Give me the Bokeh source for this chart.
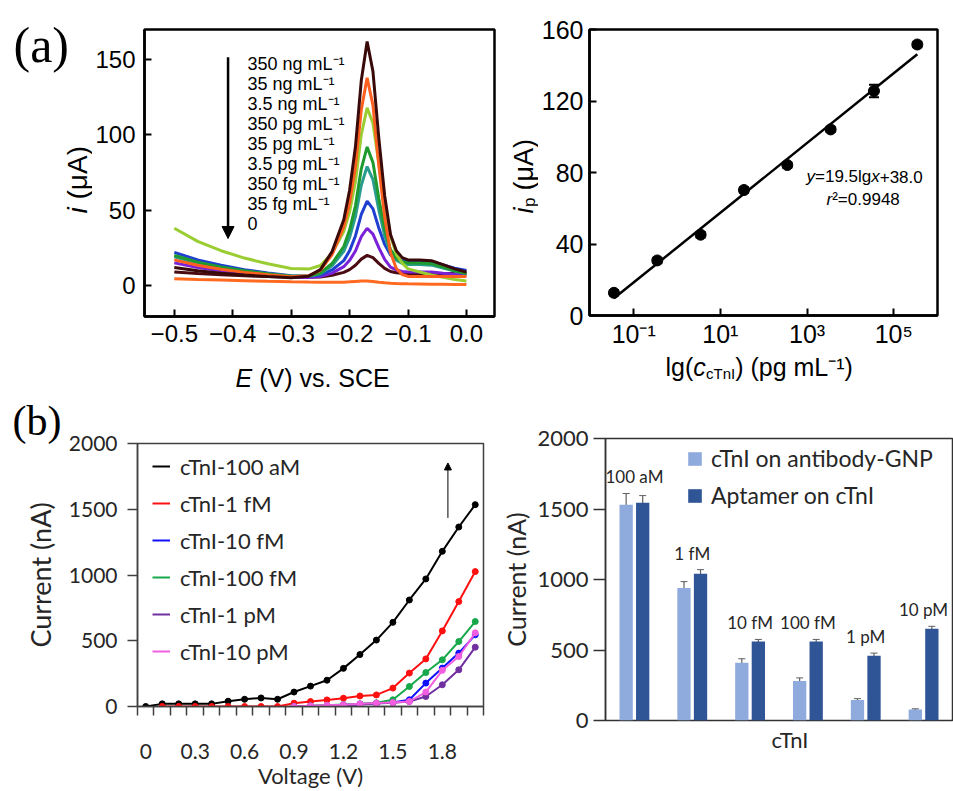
import math
from bokeh.plotting import figure
from bokeh.layouts import row, column
from bokeh.models import (ColumnDataSource, FixedTicker, Label, Arrow, NormalHead, Whisker,
                          Legend, LegendItem, FactorRange, Range1d, Title)
from bokeh.transform import dodge
from bokeh.core.properties import value
from bokeh.embed import file_html
from bokeh.resources import INLINE

# ---------------- data: (a) left, DPV curves ----------------
E_V = [-0.50, -0.46, -0.42, -0.38, -0.34, -0.30, -0.27, -0.25, -0.23, -0.21, -0.20, -0.19, -0.18,
       -0.17, -0.16, -0.15, -0.14, -0.13, -0.12, -0.11, -0.10, -0.08, -0.06, -0.04, -0.02, 0.00]
I_350NG = [12, 9.8, 8.2, 6.9, 5.9, 5.1, 6.2, 10.5, 22.5, 43.7, 63.2, 92.1, 136.1, 162, 142.1, 97.9,
           59.8, 33.9, 23.1, 18.5, 17, 17, 16.5, 13.8, 11, 9]
I_35NG = [17, 13.4, 10.8, 8.7, 7.1, 5.8, 6.5, 10.1, 20.5, 38.9, 54.8, 78.9, 116.5, 138, 119.6, 79.8,
          45.5, 21.8, 11.3, 7.3, 6, 6, 6, 6, 6, 6]
I_3_5NG = [38, 29.3, 23.1, 18.2, 14.4, 11.3, 10.9, 13.3, 21.3, 35.9, 48.9, 69, 100.1, 118, 107.7, 81,
           54.4, 33.2, 20.7, 14.8, 11, 9, 7, 5.5, 4, 3]
I_350PG = [20, 15.5, 12.3, 9.8, 7.8, 6.2, 6.2, 8.3, 14.6, 25.9, 36.8, 52.9, 77.5, 92, 81.6, 57.8,
           37.5, 23.8, 18.3, 15.8, 15, 15, 14.5, 12.2, 9.8, 8]
I_35PG = [19, 14.8, 11.8, 9.4, 7.6, 6.1, 6.1, 7.7, 13.1, 22.7, 31.9, 45.7, 66.6, 79, 70.3, 50.2,
          33, 21.4, 16.8, 14.7, 14, 14, 13.5, 11.6, 9.5, 8]
I_3_5PG = [22, 17, 13.4, 10.5, 8.3, 6.5, 6.1, 7.0, 10.3, 16.5, 23, 32.9, 47.2, 56, 50.9, 38.2,
           27.3, 20.3, 17.9, 16.5, 16.5, 16.5, 16, 13.6, 11.5, 10]
I_350FG = [15, 11.9, 9.7, 8, 6.6, 5.5, 5.3, 6, 8.2, 12.5, 16.7, 22.9, 32.4, 38, 34.1, 25.1,
           17.4, 12.2, 10.3, 9.3, 9, 9, 9, 8.2, 7.5, 7]
I_35FG = [9, 7.9, 7.1, 6.4, 6, 5.6, 5.5, 5.7, 6.8, 8.7, 10.5, 13.4, 17.5, 20, 18.5, 14.7,
          11.4, 9.3, 8.5, 8.1, 8, 8, 8, 8, 8, 8]
I_ZERO = [4.5, 4, 3.6, 3.2, 2.8, 2.5, 2.3, 2.2, 2.1, 2.2, 2.4, 2.7, 3, 3, 2.7, 2.2,
          1.8, 1.5, 1.3, 1.2, 1.1, 1, 0.9, 0.8, 0.7, 0.6]
CONC_LABELS = ["350 ng mL⁻¹", "35 ng mL⁻¹", "3.5 ng mL⁻¹", "350 pg mL⁻¹", "35 pg mL⁻¹",
               "3.5 pg mL⁻¹", "350 fg mL⁻¹", "35 fg mL⁻¹", "0"]
CONC_CURVES = [I_350NG, I_35NG, I_3_5NG, I_350PG, I_35PG, I_3_5PG, I_350FG, I_35FG, I_ZERO]
CONC_COLORS = ["#3a0a0a", "#ff5f1f", "#9acd32", "#1f9a2e", "#2a9d8f", "#1f3fd0", "#7b22d8",
               "#4a0c12", "#ff6a20"]
E_TICKS = [-0.5, -0.4, -0.3, -0.2, -0.1, 0.0]
I_TICKS = [0, 50, 100, 150]

# ---------------- data: (a) right, calibration ----------------
C_CTNI = [0.035, 0.35, 3.5, 35, 350, 3500, 35000, 350000]
IP = [12.7, 30.8, 45.2, 70.2, 84.2, 104.1, 125.6, 151.6]
IP_ERR = [1.5, 1.5, 1.5, 1.5, 1.5, 1.5, 3.5, 1.5]
FIT_SLOPE = 19.5
FIT_INTERCEPT = 38.0
LOG_TICKS = [0.1, 10, 1000, 100000]
LOG_TICK_LABELS = ["10⁻¹", "10¹", "10³", "10⁵"]
IP_TICKS = [0, 40, 80, 120, 160]

# ---------------- data: (b) left, I-V curves ----------------
VOLT = [0.0, 0.1, 0.2, 0.3, 0.4, 0.5, 0.6, 0.7, 0.8, 0.9, 1.0, 1.1, 1.2, 1.3, 1.4, 1.5, 1.6,
        1.7, 1.8, 1.9, 2.0]
CUR_100AM = [0, 20, 20, 20, 20, 40, 55, 65, 55, 110, 155, 200, 290, 395, 505, 640, 810, 970,
             1180, 1365, 1535]
CUR_1FM = [0, 0, 0, 0, 0, 0, 0, 0, 25, 38, 50, 63, 80, 88, 140, 254, 362, 575, 798, 1026]
CUR_10FM = [0, 4, 8, 12, 18, 25, 30, 51, 178, 292, 406, 545]
CUR_100FM = [0, 5, 10, 15, 20, 28, 51, 152, 258, 355, 494, 646]
CUR_1PM = [0, 3, 6, 10, 15, 22, 28, 38, 76, 165, 279, 451]
CUR_10PM = [0, 5, 10, 14, 20, 26, 30, 38, 110, 275, 380, 560]
IV_LABELS = ["cTnI-100 aM", "cTnI-1 fM", "cTnI-10 fM", "cTnI-100 fM", "cTnI-1 pM", "cTnI-10 pM"]
IV_COLORS = ["#000000", "#ff1010", "#1010ff", "#16a84a", "#7030a0", "#f35ee0"]
V_TICKS = [0, 0.3, 0.6, 0.9, 1.2, 1.5, 1.8]
V_TICK_LABELS = ["0", "0.3", "0.6", "0.9", "1.2", "1.5", "1.8"]
CUR_TICKS = [0, 500, 1000, 1500, 2000]

# ---------------- data: (b) right, bars ----------------
GROUPS = ["100 aM", "1 fM", "10 fM", "100 fM", "1 pM", "10 pM"]
ANTIBODY = [1530, 940, 410, 280, 145, 78]
ANTIBODY_ERR = [80, 45, 28, 22, 10, 5]
APTAMER = [1545, 1040, 560, 560, 460, 650]
APTAMER_ERR = [50, 30, 15, 15, 18, 18]

SANS = "Liberation Sans"
SERIF = "Liberation Serif"
CAL = "Lato"


def clabel(p, x, y, text, size, font=SANS, style="normal", angle=0.0, align="left",
           baseline="middle", color="black"):
    p.add_layout(Label(x=x, y=y, x_units="canvas", y_units="canvas", text=text,
                       text_font=font, text_font_size=f"{size}px", text_font_style=style,
                       angle=angle, text_align=align, text_baseline=baseline,
                       text_color=color))


def text_canvas(w, h):
    p = figure(width=w, height=h, x_range=Range1d(0, 1), y_range=Range1d(0, 1),
               x_axis_location=None, y_axis_location=None, min_border=0, title=None,
               output_backend="svg", toolbar_location=None)
    p.grid.visible = False
    p.xgrid.visible = False
    p.ygrid.visible = False
    p.outline_line_color = None
    p.background_fill_color = "white"
    p.border_fill_color = "white"
    return p


def style_box(p, width, color):
    p.grid.visible = False
    p.outline_line_color = color
    p.outline_line_width = width
    p.outline_line_alpha = 1.0
    p.background_fill_color = "white"
    p.border_fill_color = "white"


# ================= Panel (a) left =================
pA = figure(width=406, height=354, x_range=Range1d(-0.551, 0.048), y_range=Range1d(-20.6, 170),
            output_backend="svg", toolbar_location=None, title=None,
            min_border_left=51, min_border_right=4, min_border_top=29, min_border_bottom=38)
style_box(pA, 2.5, "black")
for ax in (pA.xaxis[0], pA.yaxis[0]):
    ax.axis_line_width = 2.5
    ax.axis_line_color = "black"
    ax.major_tick_in = 7
    ax.major_tick_out = 0
    ax.major_tick_line_width = 2
    ax.minor_tick_line_color = None
    ax.major_label_text_font = SANS
    ax.major_label_text_font_size = "24px"
    ax.major_label_text_color = "black"
pA.xaxis.ticker = FixedTicker(ticks=E_TICKS)
pA.xaxis.major_label_overrides = {t: ("%.1f" % t).replace("-", "\u2212") for t in E_TICKS}
pA.yaxis.ticker = FixedTicker(ticks=I_TICKS)
pA.xaxis.major_label_standoff = 8
pA.yaxis.major_label_standoff = 9

for ys, col in reversed(list(zip(CONC_CURVES, CONC_COLORS))):
    pA.line(E_V, ys, line_color=col, line_width=3)

for i, t in enumerate(CONC_LABELS):
    clabel(pA, 155, 63 + 20 * i, t, 18)
pA.add_layout(Arrow(end=NormalHead(size=12, fill_color="black", line_color="black"),
                    x_start=-0.408, y_start=151.6, x_end=-0.408, y_end=31.2,
                    line_width=2.5, line_color="black"))

LA = text_canvas(92, 392)
clabel(LA, 13, 44, "(a)", 50, font=SERIF)
clabel(LA, 77, 213, "i", 28, style="italic", angle=math.pi / 2)
clabel(LA, 77, 199, "(μA)", 28, angle=math.pi / 2)

LAx = text_canvas(406, 38)
clabel(LAx, 143, 23, "E", 25, style="italic")
clabel(LAx, 166.7, 23, "(V) vs. SCE", 25)

# ================= Panel (a) right =================
pB = figure(width=415, height=350, x_axis_type="log",
            x_range=Range1d(10 ** -2.02, 10 ** 6.01), y_range=Range1d(0, 160),
            output_backend="svg", toolbar_location=None, title=None,
            min_border_left=48, min_border_right=16, min_border_top=29, min_border_bottom=34)
style_box(pB, 2.5, "black")
for ax in (pB.xaxis[0], pB.yaxis[0]):
    ax.axis_line_width = 2.5
    ax.axis_line_color = "black"
    ax.major_tick_in = 7
    ax.major_tick_out = 0
    ax.major_tick_line_width = 2
    ax.minor_tick_line_color = None
    ax.major_label_text_font = SANS
    ax.major_label_text_font_size = "25px"
    ax.major_label_text_color = "black"
pB.xaxis.ticker = FixedTicker(ticks=LOG_TICKS)
pB.xaxis.major_label_overrides = dict(zip(LOG_TICKS, LOG_TICK_LABELS))
pB.yaxis.ticker = FixedTicker(ticks=IP_TICKS)
pB.xaxis.major_label_standoff = 4
pB.yaxis.major_label_standoff = 6

fit_x = [C_CTNI[0], C_CTNI[-1]]
fit_y = [FIT_SLOPE * math.log10(c) + FIT_INTERCEPT for c in fit_x]
pB.line(fit_x, fit_y, line_color="black", line_width=2.5)
srcB = ColumnDataSource(dict(c=C_CTNI, ip=IP, lo=[v - e for v, e in zip(IP, IP_ERR)],
                             hi=[v + e for v, e in zip(IP, IP_ERR)]))
wB = Whisker(source=srcB, base="c", lower="lo", upper="hi", line_color="black", line_width=2)
wB.upper_head.size = 10
wB.lower_head.size = 10
wB.upper_head.line_width = 2
wB.lower_head.line_width = 2
pB.add_layout(wB)
pB.scatter("c", "ip", source=srcB, size=11, fill_color="black", line_color="black")

clabel(pB, 268, 176, "y", 17, style="italic")
clabel(pB, 276.5, 176, "=19.5lg", 17)
clabel(pB, 332.7, 176, "x", 17, style="italic")
clabel(pB, 341.2, 176, "+38.0", 17)
clabel(pB, 288, 199, "r", 17, style="italic")
clabel(pB, 293.7, 199, "²=0.9948", 17)

LB = text_canvas(40, 392)
clabel(LB, 25, 213, "i", 27, style="italic", angle=math.pi / 2)
clabel(LB, 31, 206.5, "p", 17, angle=math.pi / 2)
clabel(LB, 25, 190, "(μA)", 27, angle=math.pi / 2)

LBx = text_canvas(415, 42)
clabel(LBx, 127, 16, "lg(", 25)
clabel(LBx, 154.8, 16, "c", 25, style="italic")
clabel(LBx, 167.5, 23, "cTnI", 15)
clabel(LBx, 196.7, 16, ") (pg mL⁻¹)", 25)

# ================= Panel (b) left =================
pC = figure(width=498, height=399, x_range=Range1d(-0.05, 2.05), y_range=Range1d(0, 2000),
            output_backend="svg", toolbar_location=None,
            title=Title(text="(b)", align="left", offset=-125, text_font=SERIF,
                        text_font_size="42px", text_font_style="normal", standoff=0,
                        text_color="black"),
            min_border_left=137, min_border_right=15, min_border_top=51, min_border_bottom=84)
style_box(pC, 1.5, "#404040")
for ax in (pC.xaxis[0], pC.yaxis[0]):
    ax.axis_line_width = 1.5
    ax.axis_line_color = "#404040"
    ax.major_label_text_font = CAL
    ax.major_label_text_font_size = "21px"
    ax.major_label_text_color = "#262626"
    ax.axis_label_text_font = CAL
    ax.axis_label_text_font_style = "normal"
    ax.axis_label_text_color = "#262626"
pC.yaxis.ticker = FixedTicker(ticks=CUR_TICKS)
pC.yaxis.major_tick_out = 10
pC.yaxis.major_tick_in = 0
pC.yaxis.major_tick_line_color = "#404040"
pC.yaxis.major_tick_line_width = 1.5
pC.yaxis.minor_tick_line_color = None
pC.yaxis.major_label_standoff = 10
pC.yaxis.axis_label = "Current (nA)"
pC.yaxis.axis_label_text_font_size = "27px"
pC.yaxis.axis_label_standoff = 9
pC.xaxis.ticker = FixedTicker(ticks=V_TICKS,
                              minor_ticks=[round(-0.05 + 0.1 * k, 2) for k in range(22)])
pC.xaxis.major_label_overrides = dict(zip(V_TICKS, V_TICK_LABELS))
pC.xaxis.major_tick_line_color = None
pC.xaxis.major_tick_out = 0
pC.xaxis.major_tick_in = 0
pC.xaxis.minor_tick_out = 9
pC.xaxis.minor_tick_in = 0
pC.xaxis.minor_tick_line_color = "#404040"
pC.xaxis.minor_tick_line_width = 1.5
pC.xaxis.major_label_standoff = 28
pC.xaxis.axis_label = "Voltage (V)"
pC.xaxis.axis_label_text_font_size = "22px"
pC.xaxis.axis_label_standoff = 0

iv_series = [(VOLT, CUR_100AM), (VOLT[1:], CUR_1FM), (VOLT[9:], CUR_10FM),
             (VOLT[9:], CUR_100FM), (VOLT[9:], CUR_1PM), (VOLT[9:], CUR_10PM)]
iv_items = []
for (xs, ys), col, lab in zip(iv_series, IV_COLORS, IV_LABELS):
    r = pC.line(xs, ys, line_color=col, line_width=2)
    pC.scatter(xs, ys, size=6, fill_color=col, line_color=col)
    iv_items.append(LegendItem(label=lab, renderers=[r]))
legC = Legend(items=iv_items, location=(15, 40), glyph_width=18, glyph_height=30,
              label_height=30, spacing=7, padding=0, margin=0, border_line_color=None,
              background_fill_alpha=0, label_text_font=CAL, label_text_font_size="22px",
              label_text_color="#262626", label_standoff=10)
pC.add_layout(legC)
pC.add_layout(Arrow(end=NormalHead(size=7, fill_color="black", line_color="black"),
                    x_start=1.834, y_start=1434, x_end=1.834, y_end=1852,
                    line_width=1, line_color="black"))

# ================= Panel (b) right =================
pD = figure(width=455, height=399, x_range=FactorRange(factors=GROUPS), y_range=Range1d(0, 2000),
            output_backend="svg", toolbar_location=None, title=None,
            min_border_left=107, min_border_right=1, min_border_top=46, min_border_bottom=71)
style_box(pD, 1.5, "#333333")
pD.xaxis.visible = False
yD = pD.yaxis[0]
yD.axis_line_width = 1.5
yD.axis_line_color = "#333333"
yD.major_label_text_font = CAL
yD.major_label_text_color = "#262626"
yD.axis_label_text_font = CAL
yD.axis_label_text_font_style = "normal"
yD.axis_label_text_color = "#262626"
yD.minor_tick_line_color = None
yD.ticker = FixedTicker(ticks=CUR_TICKS)
yD.major_tick_out = 12
yD.major_tick_in = 0
yD.major_tick_line_color = "#333333"
yD.major_tick_line_width = 1.5
yD.major_label_text_font_size = "22px"
yD.major_label_standoff = 5
yD.axis_label = "Current (nA)"
yD.axis_label_text_font_size = "25px"
yD.axis_label_standoff = 3
pD.add_layout(Title(text="cTnI", align="left", offset=166, vertical_align="top", standoff=10,
                    text_font=CAL, text_font_size="22px", text_font_style="normal",
                    text_color="#262626"), "below")

srcD = ColumnDataSource(dict(
    group=GROUPS, antibody=ANTIBODY, aptamer=APTAMER,
    ab_lo=[v - e for v, e in zip(ANTIBODY, ANTIBODY_ERR)],
    ab_hi=[v + e for v, e in zip(ANTIBODY, ANTIBODY_ERR)],
    ap_lo=[v - e for v, e in zip(APTAMER, APTAMER_ERR)],
    ap_hi=[v + e for v, e in zip(APTAMER, APTAMER_ERR)],
    top=[max(a + ea, b + eb) for a, ea, b, eb in zip(ANTIBODY, ANTIBODY_ERR, APTAMER, APTAMER_ERR)],
))
r_ab = pD.vbar(x=dodge("group", -0.143, range=pD.x_range), top="antibody", width=0.23,
               source=srcD, fill_color="#8faadc", line_color=None)
r_ap = pD.vbar(x=dodge("group", 0.143, range=pD.x_range), top="aptamer", width=0.23,
               source=srcD, fill_color="#2f5597", line_color=None)
for off, lo, hi in ((-0.143, "ab_lo", "ab_hi"), (0.143, "ap_lo", "ap_hi")):
    w = Whisker(source=srcD, base=dodge("group", off, range=pD.x_range), lower=lo, upper=hi,
                line_color="#606060", line_width=1.2)
    w.upper_head.size = 7
    w.lower_head.size = 7
    w.upper_head.line_color = "#606060"
    w.lower_head.line_color = "#606060"
    pD.add_layout(w)
pD.text(x="group", y="top", text="group", source=srcD, text_font=value(CAL),
        text_font_size=value("17px"), text_align="center", text_baseline="bottom",
        y_offset=-6, text_color="#262626")
legD = Legend(items=[LegendItem(label="cTnI on antibody-GNP", renderers=[r_ab]),
                     LegendItem(label="Aptamer on cTnI", renderers=[r_ap])],
              location=(81, 210), glyph_width=17, glyph_height=17, label_height=30,
              spacing=7, padding=0, margin=0, border_line_color=None,
              background_fill_alpha=0, label_text_font=CAL, label_text_font_size="23px",
              label_text_color="#262626", label_standoff=8)
pD.add_layout(legD)

col_left = column(row(LA, column(pA, LAx)), pC)
col_right = column(row(LB, column(pB, LBx)), pD)
layout = row(col_left, col_right)
open("out.html", "w").write(file_html(layout, INLINE))
